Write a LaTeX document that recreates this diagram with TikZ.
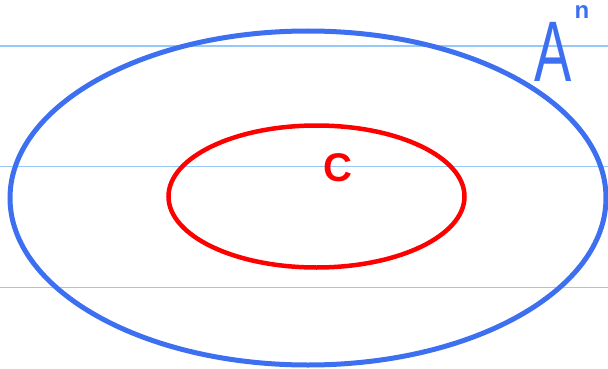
\documentclass[tikz,border=0pt]{standalone}
\usepackage{fontspec}
\setmainfont{Liberation Sans}
\definecolor{penblue}{RGB}{61,112,240}
\definecolor{penred}{RGB}{255,0,0}
\definecolor{ruled}{RGB}{150,200,250}
\begin{document}
\begin{tikzpicture}[x=1pt,y=-1pt]
\useasboundingbox (0,0) rectangle (608,369);
\draw[ruled,line width=1.8pt] (0,46) -- (608,46);
\draw[ruled,line width=1.8pt] (0,166.5) -- (608,166.5);
\draw[ruled,line width=1.8pt] (0,287.5) -- (608,287.5);

\draw[penblue,line width=5pt] (308,198) ellipse [x radius=298, y radius=167];
\draw[penred,line width=4.5pt] (316.5,196.5) ellipse [x radius=148, y radius=71];

\node[penred,font=\fontsize{40}{40}\selectfont\bfseries] (clabel) at (338,168) {C};
\node[penblue,font=\fontsize{86}{86}\selectfont,inner sep=0pt,xscale=0.65] (alabel) at (553,52) {A};
\node[penblue,font=\fontsize{24}{24}\selectfont\bfseries,inner sep=0pt] (nlabel) at (582,12) {n};
\end{tikzpicture}
\end{document}
